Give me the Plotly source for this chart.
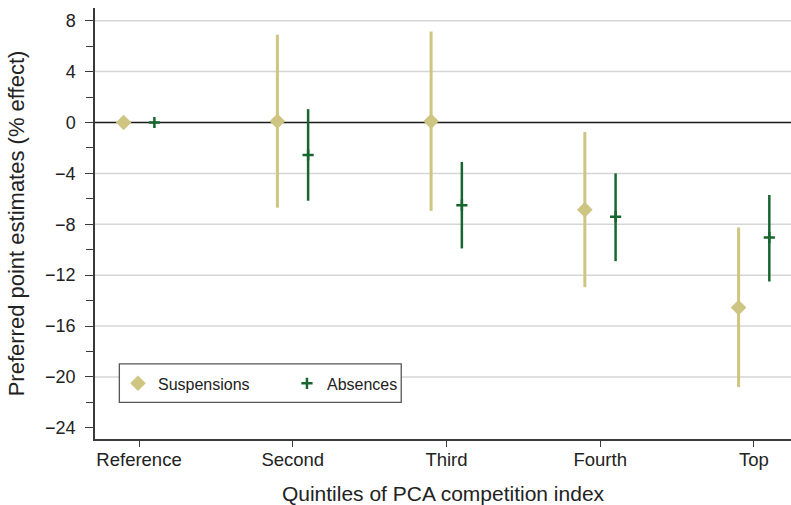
import plotly.graph_objects as go

# Quintile categories and point estimates with 95% CI bounds (% effect)
categories = ["Reference", "Second", "Third", "Fourth", "Top"]
susp_est = [0.0, 0.1, 0.1, -6.85, -14.55]
susp_lo = [0.0, -6.7, -6.95, -12.95, -20.8]
susp_hi = [0.0, 6.9, 7.15, -0.75, -8.25]
abs_est = [0.0, -2.55, -6.5, -7.4, -9.05]
abs_lo = [0.0, -6.15, -9.9, -10.9, -12.5]
abs_hi = [0.0, 1.05, -3.1, -4.0, -5.7]

y_ticks = [8, 4, 0, -4, -8, -12, -16, -20, -24]
grid_values = [8, 4, -4, -8, -12, -16, -20]

TAN = "#CEC583"
GREEN = "#17662F"
AXIS = "#3a3a3a"
FONT = "Liberation Sans, Arial, Helvetica, sans-serif"
OFFSET = 0.1

pos = list(range(1, len(categories) + 1))

fig = go.Figure()

fig.add_trace(go.Scatter(
    x=[p - OFFSET for p in pos], y=susp_est, mode="markers", name="Suspensions",
    marker=dict(symbol="diamond", size=12, color=TAN, line=dict(width=0)),
    error_y=dict(type="data", symmetric=False,
                 array=[h - e for h, e in zip(susp_hi, susp_est)],
                 arrayminus=[e - l for e, l in zip(susp_est, susp_lo)],
                 color=TAN, thickness=3, width=0),
))
fig.add_trace(go.Scatter(
    x=[p + OFFSET for p in pos], y=abs_est, mode="markers", name="Absences",
    marker=dict(symbol="cross-thin", size=8, color=GREEN, line=dict(width=2.5, color=GREEN)),
    error_y=dict(type="data", symmetric=False,
                 array=[h - e for h, e in zip(abs_hi, abs_est)],
                 arrayminus=[e - l for e, l in zip(abs_est, abs_lo)],
                 color=GREEN, thickness=2.5, width=0),
))

# Horizontal gridlines and the reference line at zero
for g in grid_values:
    fig.add_shape(type="line", xref="paper", x0=0, x1=1, yref="y", y0=g, y1=g,
                  line=dict(color="#d6d6d6", width=1.5), layer="below")
fig.add_shape(type="line", xref="paper", x0=0, x1=1, yref="y", y0=0, y1=0,
              line=dict(color="#1a1a1a", width=1.4), layer="below")

# Legend frame
fig.add_shape(type="rect", xref="paper", yref="paper",
              x0=0.035, x1=0.440, y0=0.085, y1=0.1745,
              line=dict(color="#555555", width=1.3), fillcolor="white", layer="above")

fig.update_layout(
    width=791, height=505,
    margin=dict(l=95, r=0, t=8, b=66),
    paper_bgcolor="white", plot_bgcolor="white",
    font=dict(family=FONT, color="#222222", size=18),
    showlegend=True,
    legend=dict(orientation="h", x=0.033, xanchor="left", y=0.129, yanchor="middle",
                bgcolor="rgba(0,0,0,0)", borderwidth=0, entrywidth=124,
                font=dict(family=FONT, size=16, color="#222222"),
                itemwidth=30, tracegroupgap=0),
    xaxis=dict(
        range=[0.7137, 5.241], tickmode="array", tickvals=pos, ticktext=categories,
        showgrid=False, zeroline=False, showline=True, linecolor=AXIS, linewidth=1.5,
        ticks="outside", ticklen=6, tickwidth=1.3, tickcolor=AXIS,
        tickfont=dict(size=18.5), ticklabelstandoff=-3,
        title=dict(text="Quintiles of PCA competition index", font=dict(size=21), standoff=17),
    ),
    yaxis=dict(
        range=[-24.88, 9.0], tickmode="array", tickvals=y_ticks,
        ticktext=[f"{v:d}".replace("-", "\u2212") for v in y_ticks],
        showgrid=False, zeroline=False, showline=True, linecolor=AXIS, linewidth=1.5,
        ticks="outside", ticklen=8, tickwidth=1.3, tickcolor=AXIS,
        minor=dict(dtick=2, tick0=0, ticks="outside", ticklen=7, tickwidth=1.3,
                   tickcolor=AXIS, showgrid=False),
        tickfont=dict(size=18), ticklabelstandoff=6,
        title=dict(text="Preferred point estimates (% effect)", font=dict(size=22), standoff=14),
    ),
)

fig.write_html("out.html")
